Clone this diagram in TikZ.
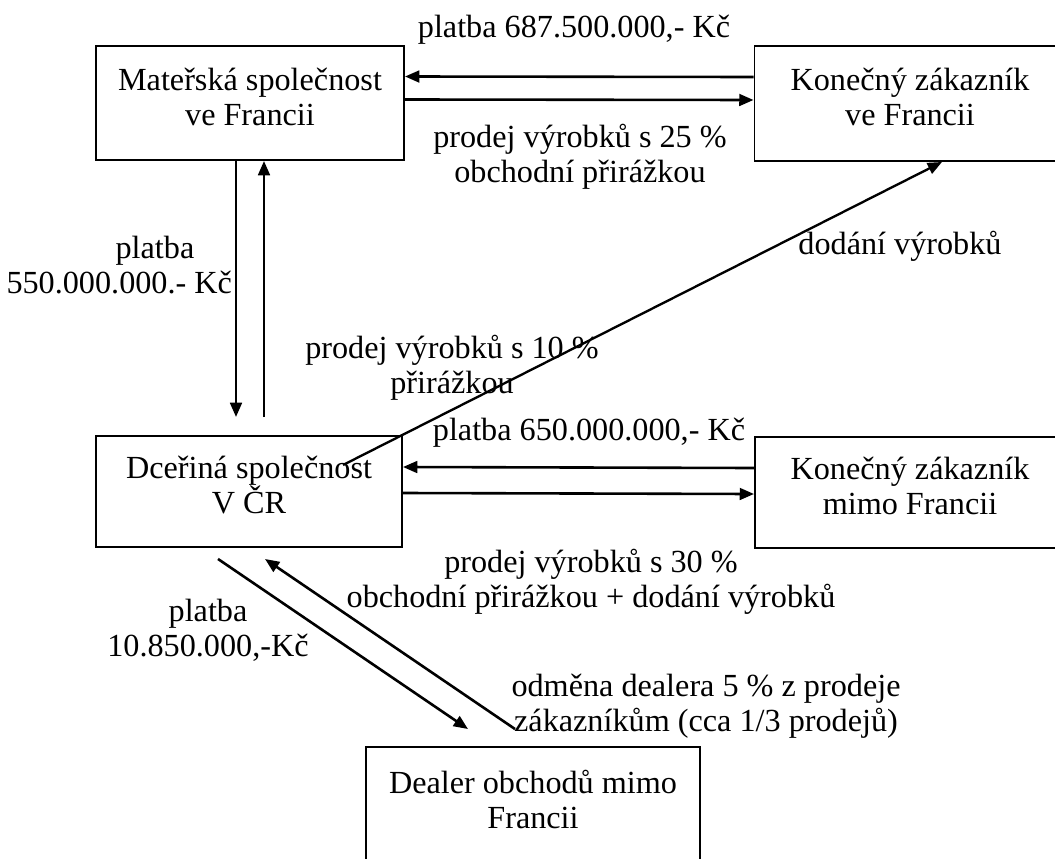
\documentclass[tikz,border=0pt]{standalone}
\usepackage{fontspec}
\setmainfont{Liberation Serif}
\usetikzlibrary{arrows.meta}

\begin{document}
\begin{tikzpicture}[x=0.385pt,y=-0.385pt,
  firma/.style={draw,line width=0.75pt,inner sep=0pt,align=center,text depth=5pt,font=\fontsize{12.4}{13.4}\selectfont},
  popis/.style={align=center,inner sep=0pt,font=\fontsize{12.4}{13.4}\selectfont},
  tok/.style={line width=1pt,-{Triangle[length=5.5pt,width=4.5pt]}}]
 \clip (0,0) rectangle (1055,858);
 % firmy
 \node[firma,minimum width=308*0.385pt,minimum height=114*0.385pt] (matka) at (250,103) {Mateřská společnost\\ve Francii};
 \node[firma,minimum width=311*0.385pt,minimum height=115*0.385pt] (zakF) at (910,103.5) {Konečný zákazník\\ve Francii};
 \node[firma,minimum width=306*0.385pt,minimum height=111*0.385pt] (dcera) at (249,491.5) {Dceřiná společnost\\V ČR};
 \node[firma,minimum width=310*0.385pt,minimum height=111*0.385pt] (zakM) at (910,492.5) {Konečný zákazník\\mimo Francii};
 \node[firma,minimum width=334*0.385pt,minimum height=118*0.385pt] (dealer) at (533,806) {Dealer obchodů mimo\\Francii};
 % toky
 \draw[tok] ([shift={(0,-26.5)}]zakF.west) -- ([shift={(0,-26.5)}]matka.east);
 \draw[tok] ([shift={(0,-3.5)}]matka.east) -- ([shift={(0,-3.5)}]zakF.west);
 \draw[tok] ([shift={(-14,0)}]matka.south) -- ([shift={(-13,-18)}]dcera.north);
 \draw[tok] ([shift={(15,-18)}]dcera.north) -- ([shift={(14,0)}]matka.south);
 \draw[tok,line width=0.9pt] ([shift={(94,-26.5)}]dcera.center) -- ([shift={(32,0)}]zakF.south);
 \draw[tok] ([shift={(0,-24.5)}]zakM.west) -- ([shift={(0,-24.5)}]dcera.east);
 \draw[tok] ([shift={(0,1.5)}]dcera.east) -- ([shift={(0,1.5)}]zakM.west);
 \draw[tok] ([shift={(-31,11)}]dcera.south) -- ([shift={(-65,-17)}]dealer.north);
 \draw[tok] ([shift={(-18,-17)}]dealer.north) -- ([shift={(16,11)}]dcera.south);
 % popisky
 \node[popis] (p1) at (574,30) {platba 687.500.000,- Kč};
 \node[popis] (p2) at (580,157) {prodej výrobků s 25 \%\\obchodní přirážkou};
 \node[popis,align=left,anchor=west] (p3) at (6,265) {\hspace*{42pt}platba\\550.000.000.- Kč};
 \node[popis] (p4) at (900,246) {dodání výrobků};
 \node[popis] (p5) at (452,368) {prodej výrobků s 10 \%\\přirážkou};
 \node[popis] (p6) at (589,433) {platba 650.000.000,- Kč};
 \node[popis] (p7) at (591,582) {prodej výrobků s 30 \%\\obchodní přirážkou + dodání výrobků};
 \node[popis] (p8) at (208,630) {platba\\10.850.000,-Kč};
 \node[popis] (p9) at (706,706) {odměna dealera 5 \% z prodeje\\zákazníkům (cca 1/3 prodejů)};
\end{tikzpicture}
\end{document}
